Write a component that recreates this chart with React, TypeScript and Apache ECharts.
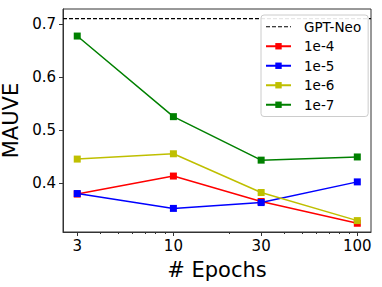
import React, { useEffect, useRef } from "react";
import * as echarts from "echarts";

const epochs = [3, 10, 30, 100];
const seriesNames = ["1e-4", "1e-5", "1e-6", "1e-7"];
const s1e4 = [0.379, 0.413, 0.365, 0.324];
const s1e5 = [0.380, 0.352, 0.363, 0.402];
const s1e6 = [0.445, 0.455, 0.382, 0.329];
const s1e7 = [0.677, 0.525, 0.443, 0.449];
const gptNeo = 0.71;
const yTicks = [0.4, 0.5, 0.6, 0.7];
const xMinorTicks = [4, 5, 6, 7, 8, 9, 20, 40, 50, 60, 70, 80, 90];
const colors = ["#ff0000", "#0000ff", "#bfbf00", "#008000"];

const X_MIN = 2.51;
const X_MAX = 118.7;

export default function App() {
  const ref = useRef<HTMLDivElement>(null);
  useEffect(() => {
    const chart = echarts.init(ref.current!, null, { renderer: "svg" });
    const values = [s1e4, s1e5, s1e6, s1e7];
    const font = "DejaVu Sans";
    const lineSeries = values.map((vals, i) => ({
      name: seriesNames[i],
      type: "line",
      data: epochs.map((e, j) => [e, vals[j]]),
      symbol: "rect",
      symbolSize: 7,
      lineStyle: { width: 1.5, color: colors[i] },
      itemStyle: { color: colors[i] },
      z: 3 + i,
    }));
    chart.setOption({
      animation: false,
      textStyle: { fontFamily: font },
      grid: {
        left: 63,
        right: 11,
        top: 9,
        bottom: 55,
        show: true,
        borderColor: "#333",
        borderWidth: 1,
        backgroundColor: "transparent",
        containLabel: false,
        outerBoundsMode: "none",
      },
      legend: {
        orient: "vertical",
        left: 261,
        top: 15,
        itemWidth: 25,
        itemHeight: 8,
        itemGap: 4,
        padding: [4, 7, 4, 4],
        backgroundColor: "rgba(255,255,255,0.9)",
        borderColor: "#cccccc",
        borderWidth: 1,
        borderRadius: 3,
        textStyle: { fontSize: 13.5, lineHeight: 15.5, color: "#000", fontFamily: font, padding: [0, 0, 0, 8] },
        data: [
          { name: "GPT-Neo", itemStyle: { opacity: 0 }, lineStyle: { type: [4, 2], color: "#000", width: 1.2 } },
          ...seriesNames,
        ],
      },
      xAxis: [
        {
          type: "log",
          logBase: 10,
          min: X_MIN,
          max: X_MAX,
          name: "# Epochs",
          nameLocation: "middle",
          nameGap: 27,
          nameTextStyle: { fontSize: 21, color: "#000", fontFamily: font },
          axisLine: { show: true, lineStyle: { color: "#333", width: 1 } },
          axisTick: { show: true, length: 4, lineStyle: { color: "#333" }, customValues: epochs },
          axisLabel: { fontSize: 15, color: "#000", margin: 6, customValues: epochs, formatter: (v: number) => String(Math.round(v)) },
          splitLine: { show: false },
          minorTick: { show: false },
        },
        {
          type: "log",
          logBase: 10,
          min: X_MIN,
          max: X_MAX,
          position: "bottom",
          gridIndex: 0,
          axisLine: { show: false },
          axisTick: { show: true, length: 2, lineStyle: { color: "#333" }, customValues: xMinorTicks },
          axisLabel: { show: false },
          splitLine: { show: false },
        },
      ],
      yAxis: {
        type: "value",
        min: 0.3075,
        max: 0.728,
        name: "MAUVE",
        nameLocation: "middle",
        nameGap: 26,
        nameRotate: 90,
        nameTextStyle: { fontSize: 21, color: "#000", fontFamily: font },
        axisLine: { show: true, lineStyle: { color: "#333", width: 1 } },
        axisTick: { show: true, length: 4, lineStyle: { color: "#333" }, customValues: yTicks },
        axisLabel: { fontSize: 15, color: "#000", margin: 7, customValues: yTicks, formatter: (v: number) => v.toFixed(1) },
        splitLine: { show: false },
      },
      series: [
        {
          name: "GPT-Neo",
          type: "line",
          data: [[X_MIN, gptNeo], [X_MAX, gptNeo]],
          symbol: "none",
          lineStyle: { color: "#000", width: 1.2, type: [4, 2] },
          itemStyle: { color: "#000" },
          z: 2,
        },
        ...lineSeries,
      ],
    });
    return () => chart.dispose();
  }, []);
  return <div ref={ref} style={{ width: 382, height: 287, position: "absolute", left: 0, top: 0 }} />;
}
